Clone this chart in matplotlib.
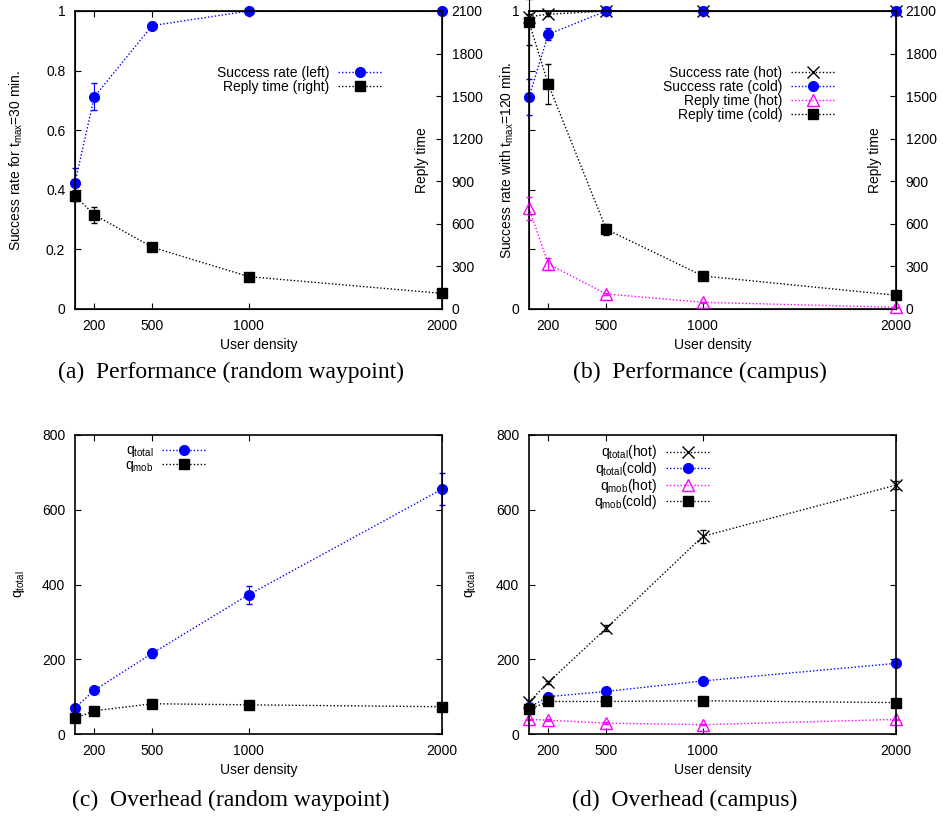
import matplotlib
matplotlib.use('Agg')
import matplotlib.pyplot as plt
import numpy as np

plt.rcParams['font.family'] = ['Liberation Sans', 'DejaVu Sans']
plt.rcParams['mathtext.default'] = 'regular'
plt.rcParams['font.size'] = 10

# user densities
density = [100, 200, 500, 1000, 2000]
xticks = [200, 500, 1000, 2000]

# (a) random waypoint performance
succ_rw = [0.424, 0.712, 0.951, 1.0, 1.0]
succ_rw_err = [0.05, 0.045, 0.012, 0.0, 0.0]
reply_rw = [798, 664, 435, 228, 110]
reply_rw_err = [40, 55, 25, 8, 5]

# (b) campus performance
succ_hot = [0.981, 0.989, 1.0, 1.0, 1.0]
succ_hot_err = [0.01, 0.005, 0.0, 0.0, 0.0]
succ_cold = [0.712, 0.922, 1.0, 1.0, 1.0]
succ_cold_err = [0.06, 0.02, 0.0, 0.0, 0.0]
reply_hot = [710, 317, 106, 47, 12]
reply_hot_err = [80, 40, 10, 5, 3]
reply_cold = [2022, 1583, 562, 233, 97]
reply_cold_err = [160, 140, 40, 10, 5]

# (c) random waypoint overhead
qtot_rw = [70, 117, 216, 373, 655]
qtot_rw_err = [5, 6, 12, 24, 42]
qmob_rw = [42, 62, 81, 78, 73]
qmob_rw_err = [2, 2, 2, 2, 2]

# (d) campus overhead
qtot_hot = [86, 138, 283, 529, 666]
qtot_hot_err = [4, 5, 8, 18, 10]
qtot_cold = [71, 100, 114, 142, 189]
qtot_cold_err = [3, 3, 4, 4, 6]
qmob_hot = [39, 37, 29, 25, 39]
qmob_hot_err = [2, 2, 2, 2, 2]
qmob_cold = [66, 87, 87, 89, 84]
qmob_cold_err = [2, 2, 2, 2, 2]

BLUE = '#0000ff'
MAG = '#ff00ff'
DOT = (0, (1, 1.5))


def series(ax, y, err, color, marker, label, mfc=None):
    h = ax.errorbar(density, y, yerr=err, color=color, ls=DOT, lw=1,
                    marker=marker, ms=7 if marker in 'os' else 8,
                    mfc=mfc if mfc else color, mec=color, mew=1,
                    elinewidth=0.8, capsize=2, label=label, clip_on=False)
    return h.lines[0]


def style(ax, right=True):
    ax.set_xlim(100, 2000)
    ax.set_xticks(xticks)
    ax.tick_params(direction='in', length=4, top=True, right=right, pad=7,
                   labelsize=10)
    for s in ax.spines.values():
        s.set_linewidth(1.2)
    ax.set_xlabel('User density', fontsize=10, labelpad=4)


def legend(ax, handles, labels, anchor, spacing=0.0):
    ax.legend(handles, labels, loc='upper right', bbox_to_anchor=anchor,
              frameon=False, markerfirst=False, numpoints=1, handlelength=3.2,
              labelspacing=spacing, borderpad=0, handletextpad=0.6, fontsize=10)


def caption(x, y, s):
    fig.text(x / W, 1 - y / H, s, ha='center', va='center',
             family='Liberation Serif', fontsize=17)


fig = plt.figure(figsize=(9.43, 8.19), dpi=100)
W, H = 943, 819


def box(l, t, r, b):
    return [l / W, 1 - b / H, (r - l) / W, (b - t) / H]


# (a)
ax = fig.add_axes(box(75, 11, 442, 309))
ax2 = ax.twinx()
h1 = series(ax, succ_rw, succ_rw_err, BLUE, 'o', 'Success rate (left)')
h2 = series(ax2, reply_rw, reply_rw_err, 'black', 's', 'Reply time (right)')
style(ax, right=False)
ax.set_ylim(0, 1)
ax.set_yticks([0, 0.2, 0.4, 0.6, 0.8, 1])
ax.set_yticklabels(['0', '0.2', '0.4', '0.6', '0.8', '1'])
ax2.set_ylim(0, 2100)
ax2.set_yticks(range(0, 2101, 300))
ax2.tick_params(direction='in', length=4, pad=7, labelsize=10)
ax.set_ylabel('Success rate for t$_{max}$=30 min.', fontsize=10)
ax.yaxis.set_label_coords(-0.136, 0.5)
ax2.set_ylabel('Reply time', fontsize=10)
ax2.yaxis.set_label_coords(0.926, 0.5)
legend(ax, [h1, h2], ['Success rate (left)', 'Reply time (right)'],
       (0.856, 0.84))
caption(231, 372, '(a)  Performance (random waypoint)')

# (b)
ax = fig.add_axes(box(529, 11, 896, 309))
ax2 = ax.twinx()
h1 = series(ax, succ_hot, succ_hot_err, 'black', 'x', 'Success rate (hot)')
h2 = series(ax, succ_cold, succ_cold_err, BLUE, 'o', 'Success rate (cold)')
h3 = series(ax2, reply_hot, reply_hot_err, MAG, '^', 'Reply time (hot)', mfc='none')
h4 = series(ax2, reply_cold, reply_cold_err, 'black', 's', 'Reply time (cold)')
style(ax, right=False)
ax.set_ylim(0, 1)
ax.set_yticks([0, 0.2, 0.4, 0.6, 0.8, 1])
ax.set_yticklabels(['0', '', '', '', '', '1'])
ax2.set_ylim(0, 2100)
ax2.set_yticks(range(0, 2101, 300))
ax2.tick_params(direction='in', length=4, pad=7, labelsize=10)
ax.set_ylabel('Success rate with t$_{max}$=120 min.', fontsize=10)
ax.yaxis.set_label_coords(-0.035, 0.5)
ax2.set_ylabel('Reply time', fontsize=10)
ax2.yaxis.set_label_coords(0.924, 0.5)
legend(ax, [h1, h2, h3, h4],
       ['Success rate (hot)', 'Success rate (cold)', 'Reply time (hot)',
        'Reply time (cold)'], (0.853, 0.84))
caption(700, 372, '(b)  Performance (campus)')

# (c)
ax = fig.add_axes(box(75, 435, 442, 734))
h1 = series(ax, qtot_rw, qtot_rw_err, BLUE, 'o', 'q$_{total}$')
h2 = series(ax, qmob_rw, qmob_rw_err, 'black', 's', 'q$_{mob}$')
style(ax)
ax.set_ylim(0, 800)
ax.set_yticks(range(0, 801, 200))
ax.set_ylabel('q$_{total}$', fontsize=10)
ax.yaxis.set_label_coords(-0.13, 0.5)
legend(ax, [h1, h2], ['q$_{total}$', 'q$_{mob}$'], (0.376, 0.995), -0.1)
caption(231, 800, '(c)  Overhead (random waypoint)')

# (d)
ax = fig.add_axes(box(529, 435, 896, 734))
h1 = series(ax, qtot_hot, qtot_hot_err, 'black', 'x', 'q$_{total}$(hot)')
h2 = series(ax, qtot_cold, qtot_cold_err, BLUE, 'o', 'q$_{total}$(cold)')
h3 = series(ax, qmob_hot, qmob_hot_err, MAG, '^', 'q$_{mob}$(hot)', mfc='none')
h4 = series(ax, qmob_cold, qmob_cold_err, 'black', 's', 'q$_{mob}$(cold)')
style(ax)
ax.set_ylim(0, 800)
ax.set_yticks(range(0, 801, 200))
ax.set_ylabel('q$_{total}$', fontsize=10)
ax.yaxis.set_label_coords(-0.139, 0.5)
legend(ax, [h1, h2, h3, h4],
       ['q$_{total}$(hot)', 'q$_{total}$(cold)', 'q$_{mob}$(hot)',
        'q$_{mob}$(cold)'], (0.512, 0.995), -0.1)
caption(685, 800, '(d)  Overhead (campus)')

fig.savefig('out.png', dpi=100)
